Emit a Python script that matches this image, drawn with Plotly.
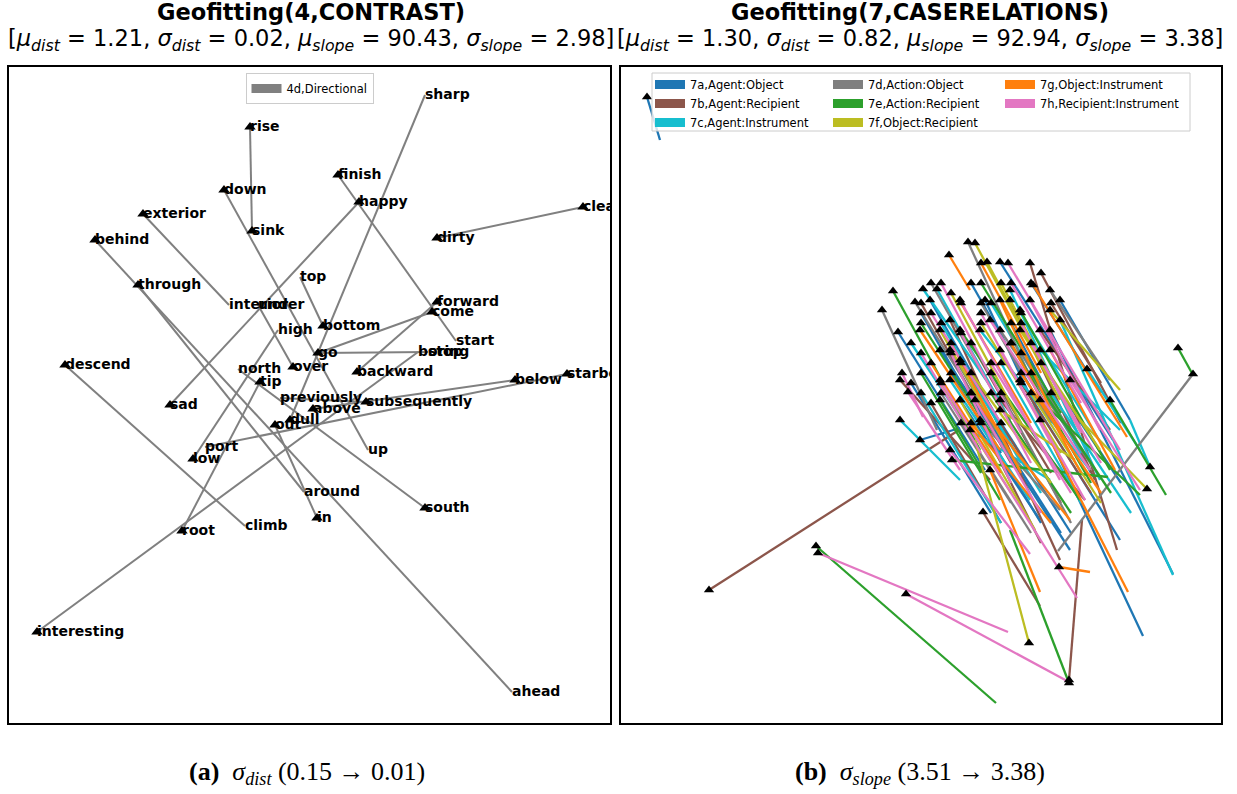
import plotly.graph_objects as go

# ---------------- Left panel: CONTRAST word pairs ----------------
WORDS = ["rise", "sink", "down", "up", "exterior", "interior", "behind", "ahead",
         "through", "around", "descend", "climb", "sharp", "dull", "finish", "start",
         "happy", "sad", "clean", "dirty", "forward", "backward", "come", "go", "stop",
         "interesting", "boring", "root", "tip", "top", "bottom", "north", "south",
         "high", "low", "port", "starboard", "above", "below", "over", "under", "in",
         "out", "previously", "subsequently"]
WX = [241, 243, 215, 359, 134, 220, 86, 503,
      129, 295, 56, 236, 416, 281, 329, 447,
      350, 161, 574, 428, 428, 348, 423, 309, 419,
      28, 409, 173, 251, 291, 314, 229, 416,
      269, 184, 196, 558, 304, 506, 284, 249, 308,
      266, 271, 357]
WY = [596, 492, 533, 273, 509, 418, 483, 31,
      438, 231, 358, 197, 628, 303, 548, 382,
      521, 318, 516, 485, 421, 351, 411, 370, 371,
      91, 371, 192, 341, 446, 397, 354, 215,
      393, 264, 276, 349, 314, 343, 356, 418, 205,
      298, 325, 321]
HEAD = [1, 1, 1, 0, 1, 0, 1, 0,
        1, 0, 1, 0, 0, 1, 1, 0,
        1, 1, 1, 1, 1, 1, 1, 1, 0,
        1, 0, 1, 1, 0, 1, 0, 1,
        0, 1, 0, 1, 1, 1, 1, 0, 1,
        1, 0, 1]
PAIRS = [("sink", "rise"), ("up", "down"), ("interior", "exterior"), ("ahead", "behind"),
         ("around", "through"), ("climb", "descend"), ("sharp", "dull"), ("start", "finish"),
         ("happy", "sad"), ("dirty", "clean"), ("backward", "forward"), ("go", "come"),
         ("stop", "go"), ("boring", "interesting"), ("tip", "root"), ("top", "bottom"),
         ("north", "south"), ("high", "low"), ("port", "starboard"), ("below", "above"),
         ("under", "over"), ("in", "out"), ("previously", "subsequently")]
LEFT_SERIES = "4d,Directional"

# ---------------- Right panel: CASERELATIONS segments (head x, head y, tail x, tail y) ----------------
SERIES_NAMES = ["7a,Agent:Object", "7b,Agent:Recipient", "7c,Agent:Instrument",
                "7d,Action:Object", "7e,Action:Recipient", "7f,Object:Recipient",
                "7g,Object:Instrument", "7h,Recipient:Instrument"]
SERIES_COLORS = ["#1f77b4", "#8c564b", "#17becf", "#7f7f7f", "#2ca02c", "#bcbd22",
                 "#ff7f0e", "#e377c2"]
SEG_7A = [(26, 626, 39, 583), (379, 461, 492, 283), (277, 391, 364, 253), (299, 283, 339, 295),
          (364, 423, 522, 87), (319, 373, 449, 173), (429, 393, 552, 149), (339, 323, 419, 203),
          (399, 343, 499, 183), (309, 423, 389, 283), (439, 423, 509, 303),
          (300, 410, 380, 270), (350, 440, 430, 300), (390, 400, 470, 250), (330, 350, 420, 200),
          (410, 440, 480, 330), (290, 340, 370, 210), (350, 330, 440, 190), (420, 360, 500, 240),
          (380, 300, 450, 190)]
SEG_7B = [(88, 133, 338, 293), (448, 43, 461, 203), (409, 460, 496, 173), (362, 211, 419, 117),
          (329, 403, 439, 163), (389, 423, 474, 243), (339, 363, 409, 253), (419, 393, 489, 293),
          (279, 343, 369, 243), (379, 323, 464, 223),
          (300, 420, 390, 260), (350, 380, 440, 220), (420, 450, 500, 300), (370, 350, 430, 250),
          (310, 320, 380, 200), (400, 340, 470, 230), (360, 300, 420, 180), (430, 420, 480, 340)]
SEG_7C = [(439, 403, 552, 148), (529, 256, 509, 303), (316, 434, 389, 303), (302, 434, 379, 323),
          (359, 393, 469, 253), (329, 343, 409, 223), (389, 433, 479, 243), (279, 303, 339, 243),
          (419, 373, 499, 293), (349, 293, 429, 243), (466, 354, 519, 273),
          (320, 400, 400, 260), (370, 420, 460, 270), (340, 360, 420, 230), (400, 410, 480, 280),
          (290, 380, 350, 290), (300, 330, 380, 200), (380, 360, 460, 220), (430, 330, 510, 210)]
SEG_7D = [(572, 349, 437, 172), (347, 481, 429, 303), (261, 413, 316, 293), (294, 421, 374, 293),
          (379, 393, 474, 253), (329, 373, 399, 253), (429, 433, 489, 343), (359, 303, 439, 213),
          (310, 440, 390, 300), (360, 420, 430, 300), (400, 370, 470, 260),
          (320, 330, 390, 220), (380, 330, 450, 200), (340, 300, 410, 190)]
SEG_7E = [(195, 177, 375, 20), (448, 40, 389, 193), (557, 375, 572, 348), (272, 432, 359, 273),
          (489, 323, 545, 228), (331, 263, 487, 246), (339, 393, 459, 223), (399, 413, 489, 253),
          (319, 323, 379, 223), (419, 323, 519, 228),
          (300, 400, 370, 290), (360, 440, 440, 310), (390, 380, 470, 240),
          (300, 350, 360, 250), (370, 330, 450, 210), (410, 350, 490, 230)]
SEG_7F = [(354, 480, 439, 323), (408, 80, 354, 283), (526, 234, 459, 303), (366, 461, 429, 343),
          (319, 393, 399, 253), (399, 393, 479, 273), (339, 323, 414, 193), (379, 313, 454, 263),
          (429, 413, 499, 333),
          (330, 430, 400, 300), (380, 440, 460, 290), (350, 350, 430, 240),
          (320, 340, 390, 230), (360, 400, 440, 270), (410, 330, 480, 220)]
SEG_7G = [(328, 468, 349, 433), (412, 438, 506, 286), (419, 303, 507, 131), (438, 156, 469, 151),
          (369, 253, 419, 131), (299, 393, 379, 273), (379, 423, 439, 293), (354, 323, 449, 203),
          (429, 373, 494, 253),
          (310, 360, 380, 250), (360, 460, 420, 350), (400, 350, 480, 230), (340, 420, 410, 300),
          (330, 380, 400, 250), (390, 380, 460, 250), (350, 300, 430, 200)]
SEG_7H = [(197, 170, 387, 91), (285, 129, 448, 41), (387, 460, 499, 273), (281, 350, 302, 306),
          (319, 343, 456, 125), (339, 423, 439, 243), (369, 403, 469, 253), (409, 423, 479, 293),
          (449, 343, 519, 233), (329, 273, 409, 169), (379, 373, 464, 223), (287, 331, 339, 253),
          (320, 440, 400, 290), (360, 410, 430, 280), (340, 390, 410, 260), (390, 440, 460, 320),
          (300, 370, 360, 270), (410, 380, 480, 260),
          (330, 370, 390, 240), (370, 360, 450, 230), (400, 400, 460, 290), (350, 330, 420, 210),
          (310, 410, 380, 300)]
SEGMENTS = [SEG_7A, SEG_7B, SEG_7C, SEG_7D, SEG_7E, SEG_7F, SEG_7G, SEG_7H]

# ---------------- Titles / stats ----------------
TITLES = ["Geofitting(4,CONTRAST)", "Geofitting(7,CASERELATIONS)"]
MU_DIST = [1.21, 1.30]
SIGMA_DIST = [0.02, 0.82]
MU_SLOPE = [90.43, 92.94]
SIGMA_SLOPE = [2.98, 3.38]
CAPTIONS = [("(a)", "dist", "0.15", "0.01"), ("(b)", "slope", "3.51", "3.38")]

W, H = 1237, 794
fig = go.Figure()

# left: lines
idx = {w: i for i, w in enumerate(WORDS)}
lx, ly = [], []
for a, b in PAIRS:
    lx += [WX[idx[a]], WX[idx[b]], None]
    ly += [WY[idx[a]], WY[idx[b]], None]
fig.add_trace(go.Scatter(x=lx, y=ly, mode="lines", line=dict(color="#808080", width=2),
                         showlegend=False, hoverinfo="skip", xaxis="x", yaxis="y"))
fig.add_trace(go.Scatter(x=[WX[i] for i in range(len(WORDS)) if HEAD[i]],
                         y=[WY[i] for i in range(len(WORDS)) if HEAD[i]],
                         mode="markers", marker=dict(symbol="triangle-up", size=10, color="black"),
                         showlegend=False, hoverinfo="skip", xaxis="x", yaxis="y"))
fig.add_trace(go.Scatter(x=WX, y=WY, mode="text", text=["<b>%s</b>" % w for w in WORDS],
                         textposition="middle right",
                         textfont=dict(family="DejaVu Sans", size=14, color="black"),
                         cliponaxis=True, showlegend=False, hoverinfo="skip",
                         xaxis="x", yaxis="y"))
fig.add_trace(go.Scatter(x=[None], y=[None], mode="lines", name=LEFT_SERIES,
                         line=dict(color="#808080", width=9), legend="legend",
                         xaxis="x", yaxis="y"))

# right: coloured segments
legend_of = ["legend2", "legend2", "legend2", "legend3", "legend3", "legend3", "legend4", "legend4"]
hx, hy = [], []
for name, color, segs, lg in zip(SERIES_NAMES, SERIES_COLORS, SEGMENTS, legend_of):
    sx, sy = [], []
    for x0, y0, x1, y1 in segs:
        sx += [x0, x1, None]
        sy += [y0, y1, None]
        hx.append(x0)
        hy.append(y0)
    fig.add_trace(go.Scatter(x=sx, y=sy, mode="lines", line=dict(color=color, width=2.3),
                             showlegend=False, hoverinfo="skip", xaxis="x2", yaxis="y2"))
    fig.add_trace(go.Scatter(x=[None], y=[None], mode="lines", name=name,
                             line=dict(color=color, width=9), legend=lg,
                             xaxis="x2", yaxis="y2"))
fig.add_trace(go.Scatter(x=hx, y=hy, mode="markers",
                         marker=dict(symbol="triangle-up", size=9, color="black"),
                         showlegend=False, hoverinfo="skip", xaxis="x2", yaxis="y2"))

ydom = [1 - 723 / H, 1 - 67 / H]
ax = dict(showgrid=False, zeroline=False, showticklabels=False, ticks="",
          showline=True, mirror=True, linecolor="black", linewidth=1.7)
leg_common = dict(font=dict(family="DejaVu Sans", size=11.5, color="black"),
                  itemwidth=30, yanchor="top", xanchor="left",
                  bgcolor="rgba(0,0,0,0)", borderwidth=0, tracegroupgap=0)

annotations = []
for k, cx in enumerate([311, 920]):
    annotations.append(dict(text="<b>%s</b>" % TITLES[k], x=cx / W, y=1 - 12.5 / H,
                            xref="paper", yref="paper", showarrow=False,
                            xanchor="center", yanchor="middle",
                            font=dict(family="DejaVu Sans", size=22.5, color="black")))
    stats = ("[<i>μ</i><sub><i>dist</i></sub> = %.2f, <i>σ</i><sub><i>dist</i></sub> = %.2f, "
             "<i>μ</i><sub><i>slope</i></sub> = %.2f, <i>σ</i><sub><i>slope</i></sub> = %.2f]"
             % (MU_DIST[k], SIGMA_DIST[k], MU_SLOPE[k], SIGMA_SLOPE[k]))
    annotations.append(dict(text=stats, x=cx / W, y=1 - 40.5 / H,
                            xref="paper", yref="paper", showarrow=False,
                            xanchor="center", yanchor="middle",
                            font=dict(family="DejaVu Sans", size=22.5, color="black")))
for k, cx in enumerate([307, 920]):
    lab, sub, a, b = CAPTIONS[k]
    cap = "<b>%s</b>  <i>σ</i><sub><i>%s</i></sub> (%s → %s)" % (lab, sub, a, b)
    annotations.append(dict(text=cap, x=cx / W, y=1 - 773 / H,
                            xref="paper", yref="paper", showarrow=False,
                            xanchor="center", yanchor="middle",
                            font=dict(family="Liberation Serif", size=26, color="black")))

fig.update_layout(
    width=W, height=H, margin=dict(l=0, r=0, t=0, b=0),
    paper_bgcolor="white", plot_bgcolor="white",
    xaxis=dict(domain=[9 / W, 610 / W], range=[0, 601], anchor="y", **ax),
    yaxis=dict(domain=ydom, range=[0, 656], anchor="x", **ax),
    xaxis2=dict(domain=[621 / W, 1221 / W], range=[0, 600], anchor="y2", **ax),
    yaxis2=dict(domain=ydom, range=[0, 656], anchor="x2", **ax),
    legend=dict(x=309.5 / W, y=1 - 73 / H, xanchor="center", yanchor="top",
                font=dict(family="DejaVu Sans", size=11.5, color="black"), itemwidth=30,
                bgcolor="rgba(255,255,255,0.8)", bordercolor="#cccccc", borderwidth=1),
    legend2=dict(x=650 / W, y=1 - 70 / H, **leg_common),
    legend3=dict(x=828 / W, y=1 - 70 / H, **leg_common),
    legend4=dict(x=1000 / W, y=1 - 70 / H, **leg_common),
    shapes=[dict(type="rect", xref="paper", yref="paper", x0=652 / W, x1=1190 / W,
                 y0=1 - 131 / H, y1=1 - 73 / H, layer="above",
                 fillcolor="rgba(255,255,255,0.8)", line=dict(color="#cccccc", width=1))],
    annotations=annotations,
)

fig.write_html("out.html")
